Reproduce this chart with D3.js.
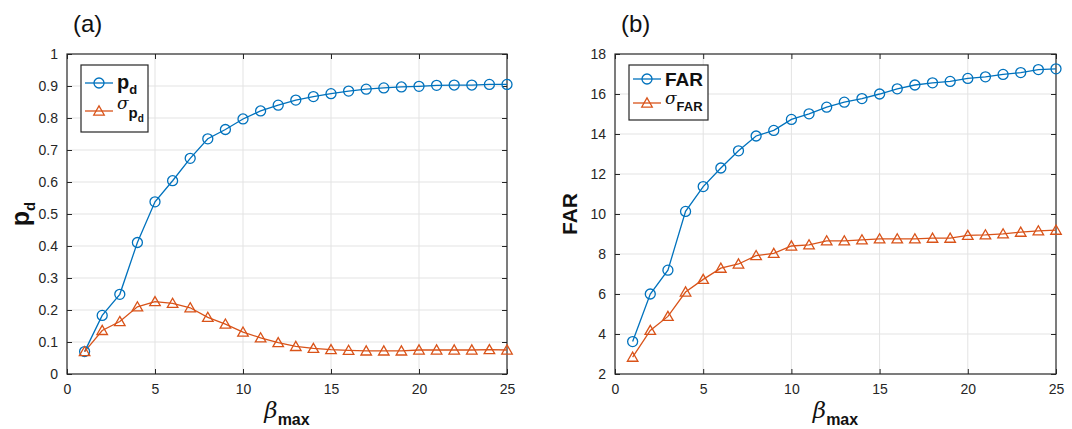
<!DOCTYPE html>
<meta charset="utf-8">
<head>
    <title>pd and FAR vs beta max</title>
    <script src="https://cdn.jsdelivr.net/npm/d3@7"></script>
    <style>
        body { margin: 0; background: #fff; }
        svg { font-family: "Liberation Sans", Arial, sans-serif; }
        .tick text { fill: #262626; font-size: 14px; }
    </style>
</head>
<body>
<svg id="svg" width="1072" height="429"></svg>
<script>
    // beta_max values, 1..25
    const beta = [1, 2, 3, 4, 5, 6, 7, 8, 9, 10, 11, 12, 13, 14, 15, 16, 17, 18, 19, 20, 21, 22, 23, 24, 25]

    // panel (a)
    const pd = [0.070, 0.183, 0.249, 0.411, 0.538, 0.604, 0.674, 0.735, 0.764, 0.797, 0.822, 0.840, 0.856, 0.867, 0.876,
        0.884, 0.890, 0.894, 0.897, 0.899, 0.902, 0.903, 0.903, 0.905, 0.905]
    const sigmaPd = [0.070, 0.136, 0.164, 0.210, 0.226, 0.221, 0.207, 0.177, 0.156, 0.131, 0.113, 0.098, 0.086, 0.080, 0.076,
        0.074, 0.072, 0.072, 0.072, 0.075, 0.075, 0.075, 0.075, 0.076, 0.075]

    // panel (b)
    const far = [3.62, 6.00, 7.19, 10.13, 11.37, 12.30, 13.16, 13.90, 14.18, 14.73, 15.01, 15.34, 15.59, 15.77, 16.00,
        16.26, 16.45, 16.56, 16.63, 16.78, 16.86, 16.98, 17.07, 17.22, 17.26]
    const sigmaFar = [2.84, 4.18, 4.88, 6.10, 6.73, 7.29, 7.50, 7.92, 8.03, 8.40, 8.46, 8.66, 8.66, 8.71, 8.76,
        8.76, 8.76, 8.79, 8.79, 8.93, 8.96, 9.01, 9.09, 9.16, 9.19]

    const xTicks = [0, 5, 10, 15, 20, 25]
    const pdTicks = [0, 0.1, 0.2, 0.3, 0.4, 0.5, 0.6, 0.7, 0.8, 0.9, 1]
    const farTicks = [2, 4, 6, 8, 10, 12, 14, 16, 18]

    const blue = '#0072BD'
    const orange = '#D95319'
    const svg = d3.select('#svg')

    function drawPanel(opt) {
        const g = svg.append('g')
        const x = d3.scaleLinear().domain([0, 25]).range([opt.left, opt.right])
        const y = d3.scaleLinear().domain(opt.yDomain).range([374, 54])

        // grid
        g.selectAll('.vgrid').data(xTicks.slice(1, -1)).enter().append('line')
            .attr('x1', d => x(d)).attr('x2', d => x(d)).attr('y1', 54).attr('y2', 374)
            .attr('stroke', '#e3e3e3').attr('stroke-width', 1)
        g.selectAll('.hgrid').data(opt.yTicks.slice(1, -1)).enter().append('line')
            .attr('x1', opt.left).attr('x2', opt.right).attr('y1', d => y(d)).attr('y2', d => y(d))
            .attr('stroke', '#e3e3e3').attr('stroke-width', 1)

        // axes with inward ticks on all four sides
        const ax = (axis, tx, ty) => {
            const a = g.append('g').attr('transform', `translate(${tx},${ty})`).call(axis)
            a.select('.domain').remove()
            a.selectAll('.tick line').attr('stroke', '#262626')
            return a
        }
        ax(d3.axisBottom(x).tickValues(xTicks).tickSize(-5).tickPadding(10), 0, 374)
        ax(d3.axisTop(x).tickValues(xTicks).tickSize(-5).tickFormat(''), 0, 54)
        ax(d3.axisLeft(y).tickValues(opt.yTicks).tickSize(-5).tickPadding(9).tickFormat(d3.format('')), opt.left, 0)
        ax(d3.axisRight(y).tickValues(opt.yTicks).tickSize(-5).tickFormat(''), opt.right, 0)
        g.append('rect').attr('x', opt.left).attr('y', 54).attr('width', opt.right - opt.left).attr('height', 320)
            .attr('fill', 'none').attr('stroke', '#262626').attr('stroke-width', 1.2)

        // series
        const line = d3.line().x((d, i) => x(beta[i])).y(d => y(d))
        g.append('path').datum(opt.mean).attr('d', line).attr('fill', 'none').attr('stroke', blue).attr('stroke-width', 1.3)
        g.append('path').datum(opt.std).attr('d', line).attr('fill', 'none').attr('stroke', orange).attr('stroke-width', 1.3)
        g.selectAll('.circ').data(opt.mean).enter().append('circle')
            .attr('cx', (d, i) => x(beta[i])).attr('cy', d => y(d)).attr('r', 5)
            .attr('fill', 'none').attr('stroke', blue).attr('stroke-width', 1.3)
        const tri = d3.symbol().type(d3.symbolTriangle).size(48)
        g.selectAll('.tri').data(opt.std).enter().append('path')
            .attr('d', tri).attr('transform', (d, i) => `translate(${x(beta[i])},${y(d) + 1})`)
            .attr('fill', 'none').attr('stroke', orange).attr('stroke-width', 1.3)

        // panel letter
        g.append('text').attr('x', opt.left + 6).attr('y', 32).attr('font-size', 24).attr('fill', '#111').text(opt.letter)

        // y label
        const yl = g.append('text').attr('transform', `translate(${opt.left - 38},${214}) rotate(-90)`)
            .attr('text-anchor', 'middle').attr('font-weight', 'bold').attr('fill', '#111')
        opt.yLabel(yl)

        // x label
        const xl = g.append('text').attr('x', (opt.left + opt.right) / 2).attr('y', 418)
            .attr('text-anchor', 'middle').attr('fill', '#111')
        xl.append('tspan').attr('font-style', 'italic').attr('font-size', 23).attr('font-family', 'DejaVu Serif, serif').text('β')
        xl.append('tspan').attr('font-weight', 'bold').attr('font-size', 16).attr('dy', 7).text('max')

        // legend
        const lg = g.append('g').attr('transform', `translate(${opt.left + 14},${65})`)
        lg.append('rect').attr('width', opt.legW).attr('height', opt.legH)
            .attr('fill', '#fff').attr('stroke', '#262626').attr('stroke-width', 1.2)
        const rows = [opt.row1, opt.row2]
        rows.forEach((r, i) => {
            const cy = r
            lg.append('line').attr('x1', 4).attr('x2', 32).attr('y1', cy).attr('y2', cy)
                .attr('stroke', i ? orange : blue).attr('stroke-width', 1.3)
            if (i === 0) {
                lg.append('circle').attr('cx', 18).attr('cy', cy).attr('r', 5)
                    .attr('fill', 'none').attr('stroke', blue).attr('stroke-width', 1.3)
            } else {
                lg.append('path').attr('d', tri).attr('transform', `translate(18,${cy + 1})`)
                    .attr('fill', 'none').attr('stroke', orange).attr('stroke-width', 1.3)
            }
            const t = lg.append('text').attr('x', 36).attr('y', cy + 6).attr('fill', '#111')
            opt.legendText[i](t)
        })
    }

    drawPanel({
        left: 67, right: 507, yDomain: [0, 1], yTicks: pdTicks, mean: pd, std: sigmaPd, letter: '(a)',
        legW: 67, legH: 67, row1: 18, row2: 46,
        yLabel: t => {
            t.append('tspan').attr('font-size', 25).text('p')
            t.append('tspan').attr('font-size', 15).attr('dy', 6).text('d')
        },
        legendText: [
            t => {
                t.append('tspan').attr('font-weight', 'bold').attr('font-size', 20).text('p')
                t.append('tspan').attr('font-weight', 'bold').attr('font-size', 13).attr('dy', 5).text('d')
            },
            t => {
                t.attr('y', 44)
                t.append('tspan').attr('font-style', 'italic').attr('font-size', 17).attr('font-family', 'DejaVu Serif, serif').text('σ')
                t.append('tspan').attr('font-weight', 'bold').attr('font-size', 15).attr('dy', 9).text('p')
                t.append('tspan').attr('font-weight', 'bold').attr('font-size', 10).attr('dy', 4).text('d')
            }
        ]
    })

    drawPanel({
        left: 615, right: 1056, yDomain: [2, 18], yTicks: farTicks, mean: far, std: sigmaFar, letter: '(b)',
        legW: 79, legH: 55, row1: 14, row2: 38,
        yLabel: t => {
            t.attr('font-size', 21).text('FAR')
        },
        legendText: [
            t => {
                t.attr('font-weight', 'bold').attr('font-size', 19).attr('y', 21).text('FAR')
            },
            t => {
                t.attr('y', 39)
                t.append('tspan').attr('font-style', 'italic').attr('font-size', 17).attr('font-family', 'DejaVu Serif, serif').text('σ')
                t.append('tspan').attr('font-weight', 'bold').attr('font-size', 13).attr('dy', 7).text('FAR')
            }
        ]
    })
</script>
</body>
</html>
